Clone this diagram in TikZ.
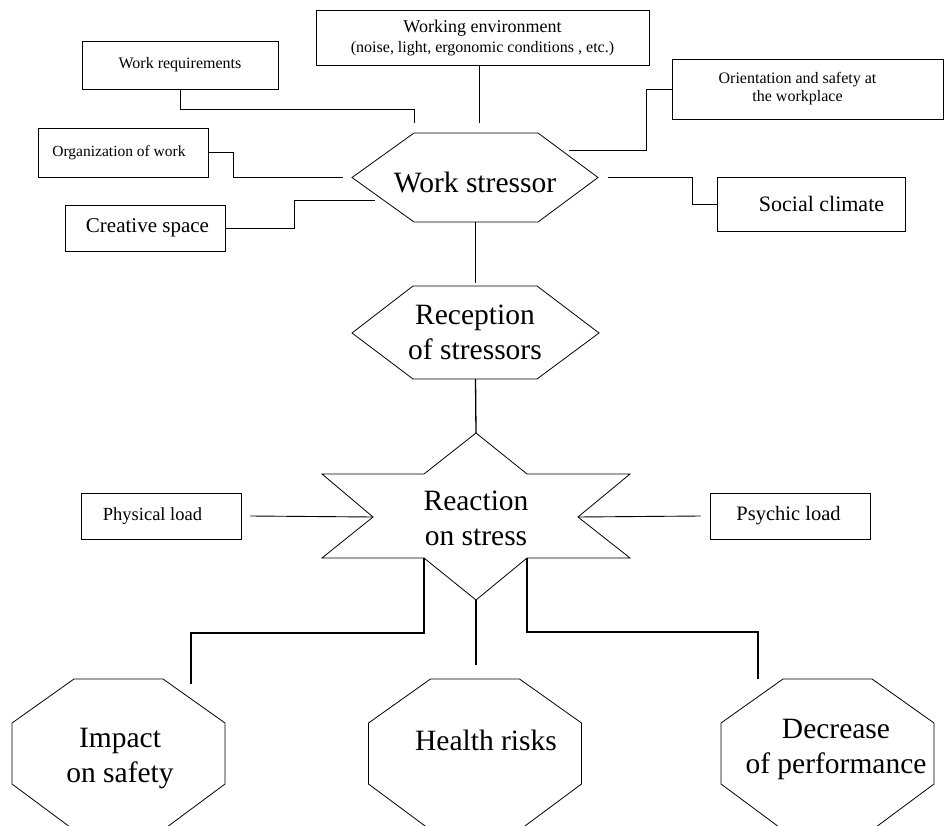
\documentclass[tikz,border=0pt]{standalone}
\usepackage{fontspec}
\setmainfont{Liberation Serif}
\newcommand{\bigfont}{\fontsize{29.5}{35}\selectfont}
\tikzset{
  box/.style={draw, line width=0.8pt, inner sep=0pt, align=center},
  outline/.style={line width=0.8pt},
  link/.style={line width=0.9pt},
  trunk/.style={line width=1.7pt},
  bigtext/.style={font=\bigfont, align=center, inner sep=0pt}
}

\begin{document}
\begin{tikzpicture}[x=1pt,y=-1pt]
\useasboundingbox (0,0) rectangle (944,826);
% boxes round the work stressor
\node[box, minimum width=196pt, minimum height=48pt, font=\fontsize{16}{19}\selectfont] (req) at (180,65) {Work requirements};
\node[box, minimum width=333pt, minimum height=55pt, font=\fontsize{16}{20}\selectfont] (env) at (482.5,37.5) {{\fontsize{18}{20}\selectfont Working environment}\\(noise, light, ergonomic conditions , etc.)};
\node[box, minimum width=170pt, minimum height=49pt, font=\fontsize{15.5}{18}\selectfont] (org) at (123,152.5) {Organization of work\hspace*{8pt}};
\node[box, minimum width=160pt, minimum height=46pt, font=\fontsize{21}{24}\selectfont] (cre) at (145,228) {\hspace*{5pt}Creative space};
\node[box, minimum width=271pt, minimum height=60pt, font=\fontsize{16}{18}\selectfont] (ori) at (807.5,89) {Orientation and safety at\hspace*{20pt}\\the workplace\hspace*{20pt}};
\node[box, minimum width=188pt, minimum height=54pt, font=\fontsize{22}{25}\selectfont] (soc) at (811,204) {\hspace*{21pt}Social climate};
% loads
\node[box, minimum width=160pt, minimum height=46pt, font=\fontsize{18.5}{21}\selectfont] (phy) at (161,516) {Physical load\hspace*{17pt}};
\node[box, minimum width=160pt, minimum height=46pt, font=\fontsize{20.5}{23}\selectfont] (psy) at (790,516) {Psychic load\hspace*{3pt}};

% work stressor
\draw[outline] (352,177.5) -- (414,133) -- (538,133) -- (598,177.5) -- (538,222) -- (414,222) -- cycle;
\node[bigtext] (ws) at (475,182) {Work stressor};
% reception
\draw[outline] (352,333) -- (413,286) -- (537,286) -- (599,333) -- (537,379) -- (413,379) -- cycle;
\node[bigtext] (rec) at (475,332.5) {Reception\\of stressors};
% reaction star
\draw[outline] (476,433) coordinate (st-n) -- (527,474) -- (630,474) -- (578,517) coordinate (st-e)
  -- (630,558) -- (527,558) coordinate (st-se) -- (476,600) coordinate (st-s) -- (424,558) coordinate (st-sw)
  -- (322,558) -- (373,517) coordinate (st-w) -- (322,474) -- (424,474) -- cycle;
\node[bigtext] (rea) at (476,518) {Reaction\\on stress};
% results
\draw[outline] (74,679) -- (163,679) -- (225,723) -- (225,784) -- (163,830) -- (74,830) -- (12,784) -- (12,723) -- cycle;
\node[bigtext] (imp) at (120,759) {Impact\\on safety};
\draw[outline] (430.5,679) -- (519.5,679) -- (581.5,723) -- (581.5,784) -- (519.5,830) -- (430.5,830) -- (368.5,784) -- (368.5,723) -- cycle;
\node[bigtext] (hea) at (486,740) {Health risks};
\draw[outline] (783,679) -- (872,679) -- (934,723) -- (934,784) -- (872,830) -- (783,830) -- (721,784) -- (721,723) -- cycle;
\node[bigtext] (dec) at (836,749) {Decrease\\of performance};

% free ends near the shapes
\coordinate (ws-req) at (414,123);
\coordinate (ws-env) at (479,123);
\coordinate (ws-org) at (343,177);
\coordinate (ws-cre) at (375,200);
\coordinate (ws-ori) at (569,150);
\coordinate (ws-soc) at (608,177);
\coordinate (ws-s) at (475.5,222);
\coordinate (rec-n) at (475.5,283);
\coordinate (rec-s) at (475.5,379);
\coordinate (imp-top) at (191,684);
\coordinate (hea-top) at (476,665);
\coordinate (dec-top) at (758,679);

% connectors
\draw[link] (req.south) -- ++(0,20) -| (ws-req);
\draw[link] (env.south -| ws-env) -- (ws-env);
\draw[link] (org.east) -- ++(25,0) |- (ws-org);
\draw[link] (cre.east) -- ++(69,0) |- (ws-cre);
\draw[link] (ws-ori) -- ++(77,0) |- (ori.west);
\draw[link] (ws-soc) -- ++(84,0) |- (soc.west);
\draw[trunk] (ws-s) -- (rec-n);
\draw[link, line width=1.3pt] (rec-s) -- (st-n);
\draw[link] ([xshift=9pt]phy.east) -- (st-w);
\draw[link] (st-e) -- ([xshift=-9pt]psy.west);
\draw[trunk] (st-sw) -- ++(0,75) -| (imp-top);
\draw[trunk] (st-s) -- (hea-top);
\draw[trunk] (st-se) -- ++(0,74) -| (dec-top);
\end{tikzpicture}
\end{document}
